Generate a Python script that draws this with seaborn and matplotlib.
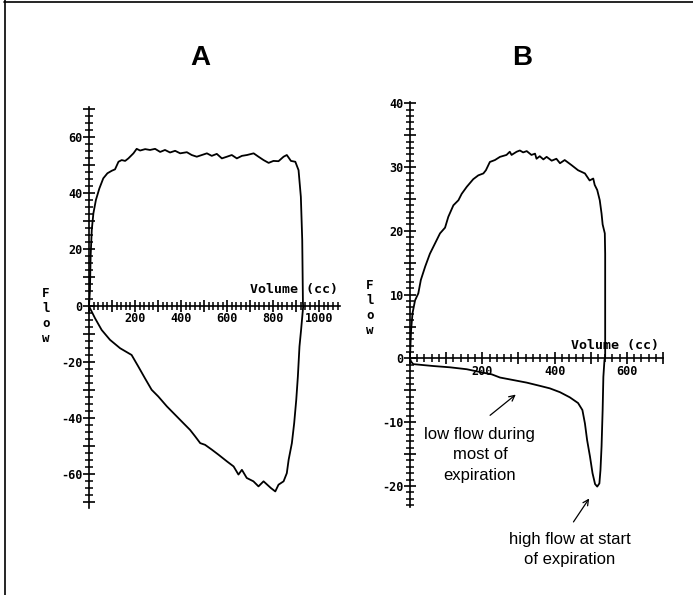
import numpy as np
import matplotlib.pyplot as plt
import seaborn as sns
from matplotlib.ticker import MultipleLocator, FuncFormatter
from matplotlib.lines import Line2D

###################
## Loop A : volume (cc) / flow
###################
vol_a = [0, 4, 7, 12, 19, 30, 45, 62, 80, 99, 113, 128, 142, 157, 171, 193, 207, 222,
         244, 265, 287, 309, 330, 352, 374, 396, 425, 446, 468, 490, 512, 533, 555, 577,
         599, 620, 642, 664, 686, 715, 736, 758, 780, 801, 823, 845, 859, 877, 896, 910,
         920, 926, 929, 930, 921, 914, 907, 900, 891, 881, 867, 859, 845, 823, 809, 790,
         758, 736, 714, 685, 664, 649, 628, 599, 562, 533, 504, 483, 461, 439, 410, 374,
         338, 301, 272, 243, 214, 185, 135, 91, 55, 26, 4, 0]
flow_a = [0, 5.2, 17.4, 26.9, 32.8, 37.6, 41.7, 45.3, 47.1, 48.0, 48.5, 51.2, 51.8, 51.5,
          52.4, 54.2, 55.8, 55.2, 55.7, 55.4, 55.8, 54.7, 55.4, 54.5, 55.1, 54.2, 54.6,
          53.6, 53.0, 53.6, 54.2, 53.3, 54.0, 52.4, 53.0, 53.6, 52.4, 53.3, 53.6, 54.2,
          53.0, 51.8, 50.8, 51.5, 51.4, 53.0, 53.6, 51.5, 51.2, 48.2, 38.7, 23.3, 1.1,
          -0.4, -8.7, -14.6, -25.3, -33.6, -41.9, -49.0, -54.9, -59.7, -62.6, -63.8,
          -66.2, -65.0, -62.6, -64.4, -62.6, -61.4, -58.5, -60.2, -57.3, -55.5, -53.1,
          -51.3, -49.6, -49.0, -46.6, -44.3, -41.9, -38.9, -35.9, -32.4, -30.0, -25.9,
          -21.7, -17.6, -15.2, -12.2, -8.7, -4.5, -0.9, 0]

###################
## Loop B
###################
vol_b = [0, 3, 9, 65, 111, 157, 203, 226, 249, 286, 323, 359, 387, 415, 442, 465, 477,
         484, 490, 498, 505, 512, 518, 524, 527, 530, 533, 535, 538, 540, 540, 540, 539,
         533, 530, 525, 518, 511, 507, 497, 484, 465, 447, 428, 415, 405, 392, 378, 369,
         359, 350, 346, 336, 323, 313, 304, 295, 281, 276, 267, 249, 235, 221, 210, 203,
         189, 175, 157, 143, 134, 120, 106, 97, 83, 69, 55, 42, 30, 23, 14, 7, 3, 0]
flow_b = [0, -0.5, -0.9, -1.2, -1.4, -1.7, -2.25, -2.5, -3.0, -3.4, -3.8, -4.3, -4.7,
          -5.3, -6.1, -7.0, -8.1, -10.2, -12.8, -15.4, -18.0, -19.7, -20.1, -19.6,
          -17.5, -13.8, -8.1, -2.9, -0.3, 0.3, 11.2, 16.4, 19.6, 21.0, 22.7, 24.8, 26.4,
          27.2, 28.2, 27.9, 29.0, 29.5, 30.3, 31.1, 30.6, 31.3, 31.0, 31.6, 31.2, 31.7,
          31.3, 32.1, 31.9, 32.5, 32.3, 32.6, 32.4, 31.9, 32.4, 31.9, 31.6, 31.1, 30.8,
          29.5, 29.0, 28.7, 28.1, 26.9, 25.8, 24.8, 24.0, 22.2, 20.5, 19.6, 18.0, 16.4,
          14.4, 12.3, 10.2, 9.1, 7.1, 4.4, 0.3]

mono = 'DejaVu Sans Mono'


def axis_style(ax, xmax, ylo, yhi, xmaj, ymaj, xmin_step, ymin_step, xlab_step, ylab_step):
    ax.set_xlim(0, xmax)
    ax.set_ylim(ylo, yhi)
    ax.spines['left'].set_position(('data', 0))
    ax.spines['bottom'].set_position(('data', 0))
    ax.spines['top'].set_visible(False)
    ax.spines['right'].set_visible(False)
    for s in ['left', 'bottom']:
        ax.spines[s].set_linewidth(1.2)
        ax.spines[s].set_color('black')
    ax.xaxis.set_major_locator(MultipleLocator(xmaj))
    ax.yaxis.set_major_locator(MultipleLocator(ymaj))
    ax.xaxis.set_minor_locator(MultipleLocator(xmin_step))
    ax.yaxis.set_minor_locator(MultipleLocator(ymin_step))
    ax.xaxis.set_major_formatter(FuncFormatter(
        lambda v, p: f"{v:.0f}" if v > 0 and round(v) % xlab_step == 0 else ""))
    ax.yaxis.set_major_formatter(FuncFormatter(
        lambda v, p: f"{v:.0f}" if round(v) % ylab_step == 0 else ""))
    ax.tick_params(which='both', bottom=True, left=True, top=False, right=False)
    ax.tick_params(which='major', direction='inout', length=9, width=1.2, pad=0,
                   labelsize=8.5, color='black', labelcolor='black')
    ax.tick_params(which='minor', direction='inout', length=6, width=1.1, color='black')
    ax.set_xlabel('')
    ax.set_ylabel('')
    ax.grid(False)


sns.set_style('white')
plt.rcParams['font.family'] = ['Liberation Sans', 'DejaVu Sans']
plt.rcParams['text.color'] = 'black'

fig = plt.figure(figsize=(6.93, 5.95), dpi=100)
ax_a = fig.add_axes([89 / 693, 1 - 508 / 595, 251 / 693, 401 / 595])
ax_b = fig.add_axes([410 / 693, 1 - 507 / 595, 253 / 693, 405 / 595])
for ax in (ax_a, ax_b):
    ax.patch.set_alpha(0)

sns.lineplot(x=vol_a, y=flow_a, sort=False, estimator=None, color='black', lw=1.3, ax=ax_a)
sns.lineplot(x=vol_b, y=flow_b, sort=False, estimator=None, color='black', lw=1.3, ax=ax_b)

axis_style(ax_a, 1090, -72.1, 70.7, 100, 10, 20, 2.5, 200, 20)
axis_style(ax_b, 700, -23.3, 40.2, 100, 5, 20, 1, 200, 10)

# axis captions in the old plotter style
fig.text(338 / 693, 1 - 290 / 595, 'Volume (cc)', ha='right', va='center',
         family=mono, fontweight='bold', fontsize=9.5)
fig.text(659 / 693, 1 - 345 / 595, 'Volume (cc)', ha='right', va='center',
         family=mono, fontweight='bold', fontsize=9.5)
fig.text(46 / 693, 1 - 316 / 595, 'F\nl\no\nw', ha='center', va='center',
         family=mono, fontweight='bold', fontsize=9, linespacing=1.2)
fig.text(370 / 693, 1 - 308 / 595, 'F\nl\no\nw', ha='center', va='center',
         family=mono, fontweight='bold', fontsize=9, linespacing=1.2)

# panel letters
fig.text(200 / 693, 1 - 58 / 595, 'A', ha='center', va='center', fontsize=20, fontweight='bold')
fig.text(522 / 693, 1 - 58 / 595, 'B', ha='center', va='center', fontsize=20, fontweight='bold')

# annotations on B
ax_b.text(193.5, -15.1, 'low flow during\nmost of\nexpiration', ha='center', va='center',
          fontsize=12, linespacing=1.45)
ax_b.annotate('', xy=(298.6, -5.4), xytext=(215.6, -9.2),
              arrowprops=dict(arrowstyle='->', color='black', lw=0.9))
ax_b.text(442, -30.0, 'high flow at start\nof expiration', ha='center', va='center',
          fontsize=12, linespacing=1.45, clip_on=False)
ax_b.annotate('', xy=(500, -21.6), xytext=(448, -26.0), annotation_clip=False,
              arrowprops=dict(arrowstyle='->', color='black', lw=0.9))

# frame of the scanned figure (top and left edges)
fig.add_artist(Line2D([4 / 693, 1], [1 - 1.5 / 595] * 2, color='black', lw=1.2))
fig.add_artist(Line2D([4.5 / 693] * 2, [0, 1], color='black', lw=1.2))

# bold monospace tick labels
fig.canvas.draw()
for ax in (ax_a, ax_b):
    for lab in ax.get_xticklabels() + ax.get_yticklabels():
        lab.set_fontfamily(mono)
        lab.set_fontweight('bold')

fig.savefig('out.png', dpi=100)
